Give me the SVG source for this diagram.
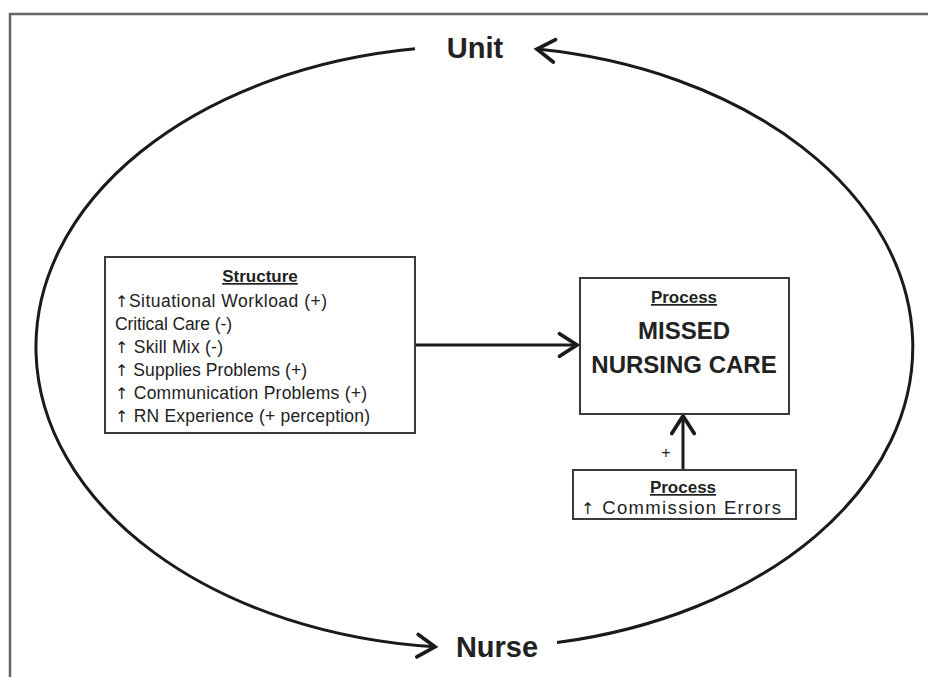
<svg xmlns="http://www.w3.org/2000/svg" width="928" height="677" viewBox="0 0 928 677">
<style>
text{font-family:"Liberation Sans",Arial,sans-serif;fill:#222}
.box{fill:#fff;stroke:#3a3a3a;stroke-width:2}
.big{font-weight:bold;font-size:29px}
.hd{font-weight:bold;font-size:17px;text-decoration:underline}
.it{font-size:17.5px}
.ar{font-family:"DejaVu Sans",sans-serif;font-size:16px}
.mc{font-weight:bold;font-size:24px}
.ln{fill:none;stroke:#1a1a1a;stroke-width:3}
</style>
<defs>
<marker id="ah" markerUnits="userSpaceOnUse" markerWidth="30" markerHeight="30" refX="0" refY="0" viewBox="-16 -12 20 24" orient="auto">
<path d="M-14 -9 L0 0 L-14 9" fill="none" stroke="#1a1a1a" stroke-width="3" stroke-linecap="round" stroke-linejoin="miter"/>
</marker>
</defs>
<rect width="928" height="677" fill="#fff"/>
<path d="M10 677 V14 H928" fill="none" stroke="#666" stroke-width="2.5"/>
<g id="connectors">
<path class="ln" d="M415 48.8 A438.5 301 0 0 0 435 646.8" marker-end="url(#ah)"/>
<path class="ln" d="M557 642.6 A438.5 301 0 0 0 537 49.1" marker-end="url(#ah)"/>
<path class="ln" d="M415 345 H577" marker-end="url(#ah)"/>
<path class="ln" d="M683 470 V416" marker-end="url(#ah)"/>
<text x="666" y="458" font-size="16" text-anchor="middle">+</text>
</g>
<g id="unit"><text class="big" x="475" y="58" text-anchor="middle">Unit</text></g>
<g id="nurse"><text class="big" x="497" y="657" text-anchor="middle">Nurse</text></g>
<g id="structure">
<rect class="box" x="105" y="257" width="310" height="176"/>
<text class="hd" x="260" y="282" text-anchor="middle" font-size="18">Structure</text>
<text class="it" x="115" y="307" textLength="212"><tspan class="ar">↑</tspan>Situational Workload (+)</text>
<text class="it" x="115" y="330" textLength="117">Critical Care (-)</text>
<text class="it" x="115" y="353" textLength="108"><tspan class="ar">↑</tspan> Skill Mix (-)</text>
<text class="it" x="115" y="376" textLength="192"><tspan class="ar">↑</tspan> Supplies Problems (+)</text>
<text class="it" x="115" y="399" textLength="252"><tspan class="ar">↑</tspan> Communication Problems (+)</text>
<text class="it" x="115" y="422" textLength="255"><tspan class="ar">↑</tspan> RN Experience (+ perception)</text>
</g>
<g id="missed">
<rect class="box" x="580" y="278" width="209" height="136"/>
<text class="hd" x="684" y="303" text-anchor="middle">Process</text>
<text class="mc" x="684" y="339" text-anchor="middle">MISSED</text>
<text class="mc" x="684" y="373" text-anchor="middle">NURSING CARE</text>
</g>
<g id="commission">
<rect class="box" x="573" y="470" width="223" height="49"/>
<text class="hd" x="683" y="493" text-anchor="middle">Process</text>
<text x="581" y="514" font-size="18.5" textLength="200"><tspan class="ar">↑</tspan> Commission Errors</text>
</g>
</svg>
